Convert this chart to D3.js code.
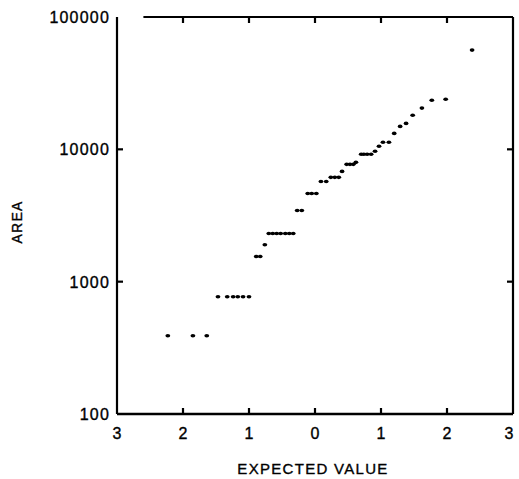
<!DOCTYPE html>
<html>
<head>
<meta charset="utf-8">
<script src="https://cdn.jsdelivr.net/npm/d3@7/dist/d3.min.js"></script>
<style>
  html, body { margin: 0; padding: 0; background: #fff; }
  svg { display: block; }
  text { font-family: "Liberation Sans", Arial, Helvetica, sans-serif; fill: #000; stroke: #000; stroke-width: 0.35px; }
</style>
</head>
<body>
<svg id="chart" width="519" height="479"></svg>
<script>
// Expected normal values (x) and observed area (y)
const expectedValue = [
  -2.23, -1.85, -1.64,
  -1.47, -1.33, -1.24, -1.17, -1.09, -1.00,
  -0.89, -0.83,
  -0.76,
  -0.70, -0.64, -0.58, -0.52, -0.45, -0.39, -0.33,
  -0.27, -0.20,
  -0.11, -0.05, 0.02,
  0.09, 0.17,
  0.24, 0.30, 0.36,
  0.41,
  0.48, 0.53, 0.58,
  0.62,
  0.70, 0.74, 0.79, 0.85,
  0.91,
  0.97,
  1.03, 1.12,
  1.20,
  1.29,
  1.38,
  1.48,
  1.62,
  1.77,
  1.98,
  2.38
];
const area = [
  390, 390, 390,
  770, 770, 770, 770, 770, 770,
  1550, 1550,
  1900,
  2310, 2310, 2310, 2310, 2310, 2310, 2310,
  3450, 3450,
  4640, 4640, 4640,
  5720, 5720,
  6140, 6140, 6140,
  6810,
  7700, 7700, 7700,
  7970,
  9170, 9170, 9170, 9170,
  9660,
  10540,
  11300, 11300,
  13200,
  14900,
  15700,
  18100,
  20500,
  23500,
  23900,
  56200
];
const xTicks = [-3, -2, -1, 0, 1, 2, 3];
const xTickLabels = ["3", "2", "1", "0", "1", "2", "3"];
const yTicks = [100, 1000, 10000, 100000];
const yTickLabels = ["100", "1000", "10000", "100000"];
const xTitle = "EXPECTED VALUE";
const yTitle = "AREA";

(function () {
const svg = d3.select("#chart");
const mLeft = 117, mRight = 513, mTop = 17, mBottom = 414;

const x = d3.scaleLinear().domain([-3, 3]).range([mLeft, mRight]);
const y = d3.scaleLog().domain([100, 100000]).range([mBottom, mTop]);

const frame = svg.append("g").attr("stroke", "#000").attr("stroke-width", 2.2).attr("fill", "none");
frame.append("line").attr("x1", mLeft).attr("x2", mLeft).attr("y1", mTop).attr("y2", mBottom);
frame.append("line").attr("x1", mLeft).attr("x2", mRight).attr("y1", mBottom).attr("y2", mBottom).attr("stroke-width", 2.6);
frame.append("line").attr("x1", mRight).attr("x2", mRight).attr("y1", mTop).attr("y2", mBottom);
frame.append("line").attr("x1", x(-2.6)).attr("x2", mRight).attr("y1", mTop).attr("y2", mTop);

const innerX = xTicks.slice(1, -1);
const innerY = yTicks.slice(1, -1);
frame.selectAll(".tb").data(innerX).join("line")
  .attr("x1", d => x(d)).attr("x2", d => x(d)).attr("y1", mBottom).attr("y2", mBottom - 6);
frame.selectAll(".tt").data(innerX).join("line")
  .attr("x1", d => x(d)).attr("x2", d => x(d)).attr("y1", mTop).attr("y2", mTop + 6);
frame.selectAll(".tl").data(innerY).join("line")
  .attr("x1", mLeft).attr("x2", mLeft + 6).attr("y1", d => y(d)).attr("y2", d => y(d));
frame.selectAll(".tr").data(innerY).join("line")
  .attr("x1", mRight).attr("x2", mRight - 6).attr("y1", d => y(d)).attr("y2", d => y(d));

svg.append("g").selectAll("text").data(xTicks).join("text")
  .attr("x", d => x(d) + (d === 3 ? -4 : 0))
  .attr("y", 439)
  .attr("text-anchor", "middle")
  .attr("font-size", 16)
  .text((d, i) => xTickLabels[i]);

svg.append("g").selectAll("text").data(yTicks).join("text")
  .attr("x", 110)
  .attr("y", d => y(d) + 6)
  .attr("text-anchor", "end")
  .attr("font-size", 16)
  .attr("letter-spacing", 1.2)
  .text((d, i) => yTickLabels[i]);

svg.append("text")
  .attr("x", 313).attr("y", 474)
  .attr("text-anchor", "middle")
  .attr("font-size", 15)
  .attr("letter-spacing", 1.3)
  .text(xTitle);

svg.append("text")
  .attr("transform", "translate(22,222) rotate(-90)")
  .attr("text-anchor", "middle")
  .attr("font-size", 14)
  .attr("letter-spacing", 1.2)
  .text(yTitle);

svg.append("g").selectAll("ellipse").data(expectedValue).join("ellipse")
  .attr("cx", d => x(d))
  .attr("cy", (d, i) => y(area[i]))
  .attr("rx", 2.4)
  .attr("ry", 1.8)
  .attr("fill", "#000");
})();
</script>
</body>
</html>
